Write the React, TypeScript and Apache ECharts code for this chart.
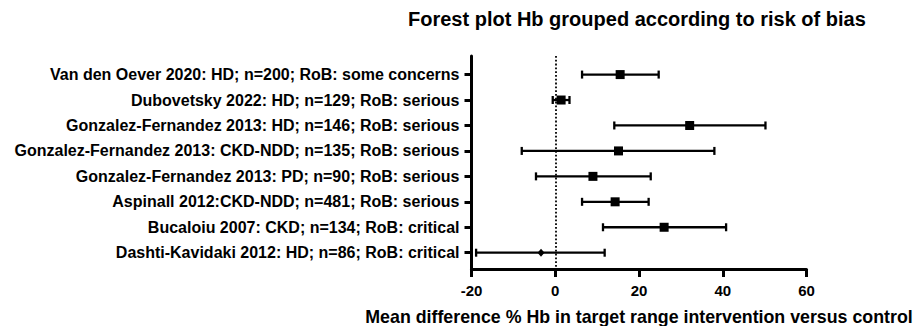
import React, { useEffect, useRef } from "react";
import * as echarts from "echarts";

const studies = [
  "Van den Oever 2020: HD; n=200; RoB: some concerns",
  "Dubovetsky 2022: HD; n=129; RoB: serious",
  "Gonzalez-Fernandez 2013: HD; n=146; RoB: serious",
  "Gonzalez-Fernandez 2013: CKD-NDD; n=135; RoB: serious",
  "Gonzalez-Fernandez 2013: PD; n=90; RoB: serious",
  "Aspinall 2012:CKD-NDD; n=481; RoB: serious",
  "Bucaloiu 2007: CKD; n=134; RoB: critical",
  "Dashti-Kavidaki 2012: HD; n=86; RoB: critical",
];
const meanDiff = [15.5, 1.4, 32.1, 15.1, 9.0, 14.3, 26.0, -3.4];
const ciLow = [6.4, -0.6, 14.1, -8.0, -4.6, 6.4, 11.4, -18.9];
const ciHigh = [24.7, 3.4, 50.2, 38.0, 22.8, 22.3, 40.8, 11.8];
const markerShape = ["rect", "rect", "rect", "rect", "rect", "rect", "rect", "diamond"];
const xTicks = [-20, 0, 20, 40, 60];

const FONT = "'Liberation Sans', Arial, sans-serif";

export default function App() {
  const ref = useRef<HTMLDivElement>(null);
  useEffect(() => {
    if (!ref.current) return;
    const chart = echarts.init(ref.current, null, { renderer: "svg" });
    const rows = studies.map((_, i) => i + 1);
    const barData = rows.map((r, i) => [ciLow[i], ciHigh[i], r]);
    const pointData = rows.map((r, i) => ({
      value: [meanDiff[i], r],
      symbol: markerShape[i],
      symbolSize: markerShape[i] === "rect" ? 9 : [7, 8],
    }));
    chart.setOption({
      animation: false,
      title: {
        text: "Forest plot Hb grouped according to risk of bias",
        left: 403,
        top: 4,
        textStyle: { fontFamily: FONT, fontWeight: "bold", fontSize: 20, color: "#000" },
      },
      grid: {
        left: 471.5,
        right: 107.5,
        top: 56,
        bottom: 57,
        containLabel: false,
        outerBoundsMode: "none",
      },
      xAxis: {
        type: "value",
        min: xTicks[0],
        max: xTicks[xTicks.length - 1],
        interval: 20,
        name: "Mean difference % Hb in target range intervention versus control",
        nameLocation: "middle",
        nameGap: 39,
        nameTextStyle: { fontFamily: FONT, fontWeight: "bold", fontSize: 17.8, color: "#000" },
        axisLine: { show: true, onZero: false, lineStyle: { color: "#000", width: 3 } },
        axisTick: { show: true, length: 8, lineStyle: { color: "#000", width: 3 } },
        axisLabel: { fontFamily: FONT, fontWeight: "bold", fontSize: 15, color: "#000", margin: 14 },
        splitLine: { show: false },
      },
      yAxis: {
        type: "value",
        inverse: true,
        min: 0.27,
        max: 8.64,
        axisLine: { show: true, onZero: false, lineStyle: { color: "#000", width: 3 } },
        axisTick: { show: true, length: 7, customValues: rows, lineStyle: { color: "#000", width: 3 } },
        axisLabel: {
          customValues: rows,
          formatter: (v: number) => studies[Math.round(v) - 1] ?? "",
          fontFamily: FONT,
          fontWeight: "bold",
          fontSize: 16,
          color: "#000",
          margin: 12,
        },
        splitLine: { show: false },
      },
      series: [
        {
          type: "custom",
          data: barData,
          encode: { x: [0, 1], y: 2 },
          renderItem: (params: any, api: any) => {
            const lo = api.coord([api.value(0), api.value(2)]);
            const hi = api.coord([api.value(1), api.value(2)]);
            const capH = 4;
            const style = { stroke: "#000", lineWidth: 2.3 };
            return {
              type: "group",
              children: [
                { type: "line", shape: { x1: lo[0], y1: lo[1], x2: hi[0], y2: hi[1] }, style },
                { type: "line", shape: { x1: lo[0], y1: lo[1] - capH, x2: lo[0], y2: lo[1] + capH }, style },
                { type: "line", shape: { x1: hi[0], y1: hi[1] - capH, x2: hi[0], y2: hi[1] + capH }, style },
              ],
            };
          },
          markLine: {
            silent: true,
            symbol: "none",
            label: { show: false },
            lineStyle: { color: "#000", width: 1.8, type: [1.8, 2] },
            data: [{ xAxis: 0 }],
          },
          z: 2,
        },
        {
          type: "scatter",
          data: pointData,
          itemStyle: { color: "#000", opacity: 1 },
          z: 3,
        },
      ],
    });
    return () => chart.dispose();
  }, []);
  return <div ref={ref} style={{ width: 914, height: 326, position: "absolute", left: 0, top: 0 }} />;
}
